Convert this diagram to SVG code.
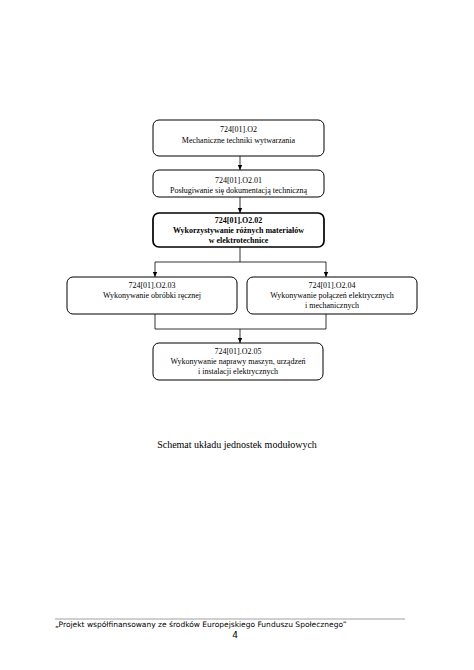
<svg xmlns="http://www.w3.org/2000/svg" width="474" height="670" viewBox="0 0 474 670">
<style>
.box{fill:#fff;stroke:#000;stroke-width:1}
.bold{stroke-width:1.7}
.t{font-family:"Liberation Serif",serif;font-size:8px;text-anchor:middle;fill:#000}
.b{font-weight:bold}
.c{fill:none;stroke:#000;stroke-width:0.8}
</style>
<defs>
<marker id="ar" markerWidth="6" markerHeight="6" refX="5" refY="3" orient="auto" markerUnits="userSpaceOnUse">
<path d="M0,0.8 L5,3 L0,5.2 Z" fill="#000"/>
</marker>
</defs>
<rect width="474" height="670" fill="#fff"/>
<g id="connectors">
<path class="c" d="M240,156 V170" marker-end="url(#ar)"/>
<path class="c" d="M240,197 V213" marker-end="url(#ar)"/>
<path class="c" d="M240,247 V262 M155,262 H326"/>
<path class="c" d="M155,262 V277" marker-end="url(#ar)"/>
<path class="c" d="M326,262 V277" marker-end="url(#ar)"/>
<path class="c" d="M155,314 V329 H326 M326,314 V329"/>
<path class="c" d="M240,329 V343" marker-end="url(#ar)"/>
</g>
<g id="n1">
<rect class="box" x="153" y="120" width="171" height="36" rx="6"/>
<text class="t" x="238.5" y="132">724[01].O2</text>
<text class="t" x="238.5" y="143">Mechaniczne techniki wytwarzania</text>
</g>
<g id="n2">
<rect class="box" x="153" y="170" width="171" height="27" rx="6"/>
<text class="t" x="238.5" y="183">724[01].O2.01</text>
<text class="t" x="238.5" y="193">Posługiwanie się dokumentacją techniczną</text>
</g>
<g id="n3">
<rect class="box bold" x="153" y="213" width="171" height="34" rx="6"/>
<text class="t b" x="238.5" y="223">724[01].O2.02</text>
<text class="t b" x="238.5" y="233">Wykorzystywanie różnych materiałów</text>
<text class="t b" x="238.5" y="243">w elektrotechnice</text>
</g>
<g id="n4">
<rect class="box" x="67" y="277" width="170" height="37" rx="6"/>
<text class="t" x="152" y="288">724[01].O2.03</text>
<text class="t" x="152" y="298">Wykonywanie obróbki ręcznej</text>
</g>
<g id="n5">
<rect class="box" x="247" y="277" width="170" height="37" rx="6"/>
<text class="t" x="332" y="288">724[01].O2.04</text>
<text class="t" x="332" y="298">Wykonywanie połączeń elektrycznych</text>
<text class="t" x="332" y="308">i mechanicznych</text>
</g>
<g id="n6">
<rect class="box" x="153" y="343" width="170" height="37" rx="6"/>
<text class="t" x="238" y="354">724[01].O2.05</text>
<text class="t" x="238" y="364">Wykonywanie naprawy maszyn, urządzeń</text>
<text class="t" x="238" y="374">i instalacji elektrycznych</text>
</g>
<text x="237" y="448" font-family="Liberation Serif,serif" font-size="10" text-anchor="middle">Schemat układu jednostek modułowych</text>
<line x1="55" y1="619" x2="405" y2="619" stroke="#888" stroke-width="0.8"/>
<text x="55" y="627" font-family="DejaVu Sans,sans-serif" font-size="7.5">„Projekt współfinansowany ze środków Europejskiego Funduszu Społecznego”</text>
<text x="235" y="638" font-family="DejaVu Sans,sans-serif" font-size="9" text-anchor="middle">4</text>
</svg>
